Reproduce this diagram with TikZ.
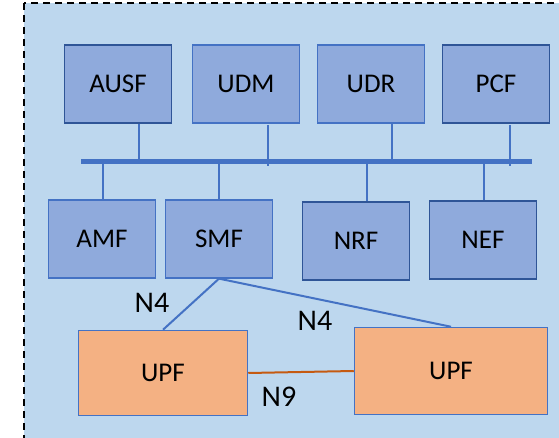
\documentclass[tikz,border=0pt]{standalone}
\usepackage{fontspec}
\setmainfont{Carlito}
\usepackage{tikz}

\definecolor{bgblue}{HTML}{BDD7EE}
\definecolor{nfblue}{HTML}{8FAADC}
\definecolor{midblue}{HTML}{4472C4}
\definecolor{darkblue}{HTML}{2F5597}
\definecolor{upforange}{HTML}{F4B183}
\definecolor{nninecol}{HTML}{C55A11}

\begin{document}
\begin{tikzpicture}[x=1pt, y=-1pt,
    nfbox/.style={draw=midblue, fill=nfblue, line width=1.3pt,
      minimum width=107pt, minimum height=78pt, inner sep=0pt,
      font=\fontsize{27}{31}\selectfont},
    nfdark/.style={nfbox, draw=darkblue},
    upfbox/.style={draw=midblue, fill=upforange, line width=1.5pt, inner sep=0pt,
      font=\fontsize{27}{31}\selectfont},
    tap/.style={draw=midblue, line width=2.4pt},
    iflabel/.style={font=\fontsize{30}{34}\selectfont}]

    \useasboundingbox (0,0) rectangle (559,438);

    % core network area
    \draw[fill=bgblue, dash pattern=on 7pt off 5pt, line width=2pt]
      (24,3) rectangle (620,500);

    % control plane functions, upper row
    \node[nfdark] (ausf) at (118,84) {AUSF};

    \node[nfbox] (udm) at (246,84) {UDM};

    \node[nfbox] (udr) at (371,84) {UDR};

    \node[nfdark] (pcf) at (496,84) {PCF};

    % control plane functions, lower row
    \node[nfbox] (amf) at (102,239) {AMF};

    \node[nfbox] (smf) at (219,239) {SMF};

    \node[nfdark] (nrf) at (356,241) {NRF};

    \node[nfdark] (nef) at (483,240) {NEF};

    % service based bus
    \coordinate (busL) at (81,162);
    \coordinate (busR) at (532,162);
    \draw[draw=midblue, line width=5pt] (busL) -- (busR);

    \draw[tap] (139,0 |- ausf.south) -- (139,0 |- busL);
    \draw[tap] (268,125) -- (268,166);
    \draw[tap] (392,0 |- udr.south) -- (392,0 |- busL);
    \draw[tap] (510,125) -- (510,166);

    \draw[tap] (103,0 |- busL) -- (103,0 |- amf.north);
    \draw[tap] (busL -| smf.north) -- (smf.north);
    \draw[tap] (367,0 |- busL) -- (367,0 |- nrf.north);
    \draw[tap] (484,0 |- busL) -- (484,0 |- nef.north);

    % user plane functions
    \node[upfbox, minimum width=169pt, minimum height=85pt] (upfA) at (163,373) {UPF};

    \node[upfbox, minimum width=193pt, minimum height=87pt] (upfB) at (451,371) {UPF};

    % interfaces
    \draw[draw=midblue, line width=2pt] (smf.south) -- (upfA.north);
    \draw[draw=midblue, line width=2pt] (smf.south) -- (upfB.north);
    \draw[draw=nninecol, line width=2pt] (upfA.east) -- (upfB.west);

    \node[iflabel] (nfourA) at (152,303) {N4};

    \node[iflabel] (nfourB) at (315,321) {N4};

    \node[iflabel] (nnine) at (279,397) {N9};

\end{tikzpicture}
\end{document}
